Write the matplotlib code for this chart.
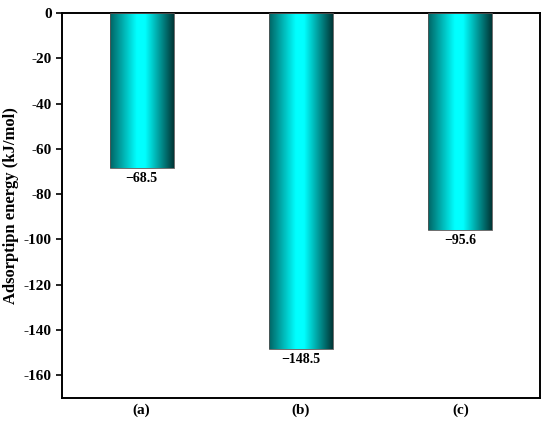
import matplotlib
matplotlib.use("Agg")
import matplotlib.pyplot as plt
import numpy as np
from matplotlib.colors import LinearSegmentedColormap
from matplotlib.patches import Rectangle

categories = ["(a)", "(b)", "(c)"]
energies = [-68.5, -148.5, -95.6]
labels = ["\u221268.5", "\u2212148.5", "\u221295.6"]
yticks = [0, -20, -40, -60, -80, -100, -120, -140, -160]

plt.rc('font', family='Liberation Serif', weight='bold', size=11)

fig = plt.figure(figsize=(5.5, 4.26), dpi=100)
ax = fig.add_axes([0.1127, 0.0657, 0.8691, 0.9038])

# horizontal gradient for the bars: teal edge -> cyan centre -> dark teal edge
cmap = LinearSegmentedColormap.from_list(
    "cyanbar", [(0.0, "#006464"), (0.42, "#00ffff"), (0.55, "#00ffff"), (1.0, "#003636")])
grad = np.linspace(0, 1, 256).reshape(1, -1)

width = 0.4
x = np.arange(len(categories))
bars = ax.bar(x, energies, width=width, color="none", edgecolor="#555555", linewidth=0.6, zorder=3)
for b in bars:
    x0, y0 = b.get_x(), b.get_y()
    w, h = b.get_width(), b.get_height()
    im = ax.imshow(grad, extent=[x0, x0 + w, y0 + h, y0], aspect="auto", cmap=cmap, zorder=2)
    im.set_clip_path(Rectangle((x0, y0), w, h, transform=ax.transData))

for xi, val, lab in zip(x, energies, labels):
    ax.annotate(lab, (xi, val), xytext=(0, -3), textcoords="offset points",
                ha="center", va="top", fontsize=10, fontweight="bold")

ax.set_xlim(-0.5, 2.5)
ax.set_ylim(-170, 0)
ax.set_yticks(yticks)
ax.set_yticklabels([str(t) for t in yticks])
ax.set_xticks(x)
ax.set_xticklabels(categories)
ax.tick_params(axis="x", length=0, pad=4)
ax.tick_params(axis="y", direction="out", length=4, width=1.2)
ax.set_ylabel("Adsorptipn energy (kJ/mol)", fontsize=12, fontweight="bold", labelpad=3)
for s in ax.spines.values():
    s.set_linewidth(1.4)

fig.savefig("out.png", dpi=100)
